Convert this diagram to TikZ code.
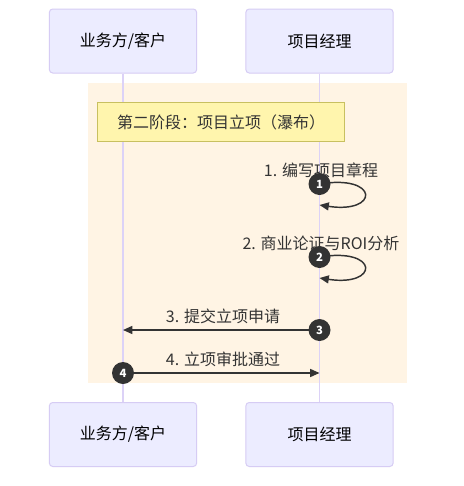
\documentclass[tikz,border=0pt]{standalone}
\usepackage{fontspec}
\setmainfont{Noto Sans CJK SC}
\usetikzlibrary{arrows.meta}
\definecolor{actfill}{HTML}{ECECFF}
\definecolor{actline}{HTML}{D6CCF4}
\definecolor{lifeln}{HTML}{DCD2F7}
\definecolor{bgrect}{HTML}{FFF4E4}
\definecolor{notefill}{HTML}{FFF5AD}
\definecolor{noteline}{HTML}{C8C060}
\definecolor{ink}{HTML}{333333}
\tikzset{
  actor/.style={draw=actline, fill=actfill, line width=0.75pt, rounded corners=2.5pt,
    minimum width=147\pgfunit, minimum height=64\pgfunit, inner sep=0pt,
    font=\fontsize{12}{14}\selectfont, text=black},
  lifeline/.style={draw=lifeln, line width=1.4pt},
  msg/.style={draw=ink, line width=1.1pt, -{Triangle[length=7pt,width=6pt]}},
  msgtext/.style={font=\fontsize{12}{14}\selectfont, text=ink, inner sep=0pt},
  seqnum/.style={circle, fill=ink, text=white, minimum size=16.5pt, inner sep=0pt,
    font=\fontsize{8.5}{10}\selectfont\bfseries},
}
\begin{document}
\begin{tikzpicture}[x=0.75pt,y=-0.75pt]
\def\pgfunit{pt}
\useasboundingbox (0,0) rectangle (464,486);
\fill[white] (0,0) rectangle (464,486);
% background rect
\fill[bgrect] (88,83) rectangle (407,383);
% actors
\node[actor, minimum width=110.4pt, minimum height=48pt] (at) at (123,41) {业务方/客户};
\node[actor, minimum width=110.4pt, minimum height=48pt] (bt) at (319.5,41) {项目经理};
\node[actor, minimum width=110.4pt, minimum height=48pt] (ab) at (123,434.5) {业务方/客户};
\node[actor, minimum width=110.4pt, minimum height=48pt] (bb) at (319.5,434.5) {项目经理};
% lifelines
\draw[lifeline] (at.south) -- (ab.north);
\draw[lifeline] (bt.south) -- (bb.north);
\fill[bgrect, opacity=0] (0,0) rectangle (1,1);
% note
\node[draw=noteline, fill=notefill, line width=0.75pt, minimum width=185pt, minimum height=29pt,
  inner sep=0pt, font=\fontsize{12}{14}\selectfont, text=ink] (note) at (221,122.3) {第二阶段：项目立项（瀑布）};
% message 1 (self)
\coordinate (s1) at (319.5,184);
\coordinate (e1) at (319.5,205);
\node[msgtext] (t1) at (321,170) {1. 编写项目章程};
\draw[msg] (s1) .. controls (379.5,174) and (379.5,214) .. (e1);
\node[seqnum] (n1) at (s1) {1};
% message 2 (self)
\coordinate (s2) at (319.5,257);
\coordinate (e2) at (319.5,278);
\node[msgtext] (t2) at (321,243) {2. 商业论证与ROI分析};
\draw[msg] (s2) .. controls (379.5,247) and (379.5,287) .. (e2);
\node[seqnum] (n2) at (s2) {2};
% message 3
\coordinate (s3) at (319.5,330);
\coordinate (e3) at (123,330);
\node[msgtext] (t3) at (223,316) {3. 提交立项申请};
\draw[msg] (s3) -- (e3);
\node[seqnum] (n3) at (s3) {3};
% message 4
\coordinate (s4) at (123,373);
\coordinate (e4) at (319.5,373);
\node[msgtext] (t4) at (223,359) {4. 立项审批通过};
\draw[msg] (s4) -- (e4);
\node[seqnum] (n4) at (s4) {4};
\end{tikzpicture}
\end{document}
